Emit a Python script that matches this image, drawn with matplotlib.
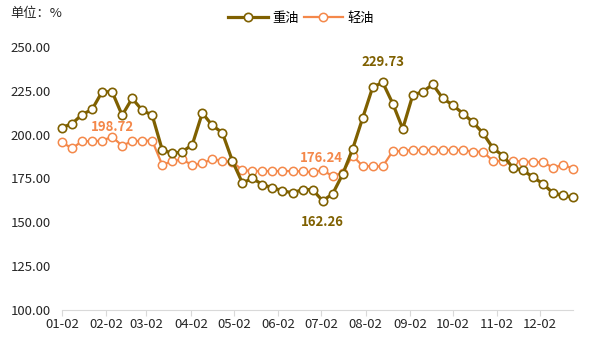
import numpy as np
import pandas as pd
import matplotlib
matplotlib.use("Agg")
import matplotlib.pyplot as plt
import matplotlib.dates as mdates

plt.rcParams['font.family'] = ['Noto Sans CJK SC', 'DejaVu Sans']

# weekly data, first Monday of the year onwards
dates = pd.date_range('2023-01-02', periods=52, freq='7D')

heavy = [204.0, 206.2, 211.4, 214.3, 224.4, 224.4, 211.0, 220.6, 213.9, 211.0,
         191.3, 189.2, 190.2, 194.2, 212.3, 205.2, 201.0, 185.0, 172.4, 175.0,
         171.5, 169.6, 168.0, 166.7, 168.6, 168.6, 162.26, 166.1, 177.3, 191.7,
         209.4, 227.0, 229.73, 217.7, 203.3, 222.5, 224.4, 228.6, 220.6, 216.8,
         212.0, 207.1, 200.8, 192.3, 187.9, 181.1, 179.6, 175.7, 171.9, 166.6,
         165.3, 164.2]

light = [195.6, 192.1, 196.2, 196.2, 196.5, 198.72, 193.6, 196.2, 196.5, 196.5,
         182.7, 184.8, 185.8, 182.5, 183.6, 186.0, 184.8, 184.4, 179.7, 179.2,
         179.2, 179.2, 179.2, 179.2, 179.0, 178.4, 179.8, 176.24, 178.3, 188.0,
         182.0, 182.0, 181.8, 190.5, 190.7, 191.2, 191.2, 191.2, 191.2, 191.2,
         191.2, 190.2, 190.2, 185.0, 185.0, 185.0, 184.6, 184.4, 184.2, 181.1,
         182.7, 180.6]

yticks = [100, 125, 150, 175, 200, 225, 250]

heavy_c = '#7F6000'
light_c = '#F4884A'

fig = plt.figure(figsize=(6.02, 3.55), dpi=100)
ax = fig.add_axes([0.103, 0.127, 0.849, 0.741])

ax.plot(dates, heavy, color=heavy_c, lw=2.3, marker='o', ms=6,
        mfc='white', mec=heavy_c, mew=1.2, label='重油', clip_on=False, zorder=3)
ax.plot(dates, light, color=light_c, lw=1.6, marker='o', ms=6,
        mfc='white', mec=light_c, mew=1.1, label='轻油', clip_on=False, zorder=2)

ax.set_ylim(100, 250)
ax.set_yticks(yticks)
ax.set_yticklabels(['%.2f' % v for v in yticks])
ax.set_xlim(dates[0], dates[-1])
ax.xaxis.set_major_locator(mdates.MonthLocator(bymonthday=2))
ax.xaxis.set_major_formatter(mdates.DateFormatter('%m-%d'))

for s in ['top', 'right', 'left']:
    ax.spines[s].set_visible(False)
ax.spines['bottom'].set_color('#D9D9D9')
ax.tick_params(axis='y', length=0, pad=8, labelsize=9.5, labelcolor='#262626')
ax.tick_params(axis='x', length=4, color='#D9D9D9', pad=2, labelsize=9.5,
               labelcolor='#262626')

# value labels
i = heavy.index(max(heavy))
ax.annotate('%.2f' % heavy[i], (dates[i], heavy[i]), xytext=(0, 15),
            textcoords='offset points', ha='center', va='center',
            color=heavy_c, fontsize=9.5, fontweight='bold')
i = heavy.index(min(heavy))
ax.annotate('%.2f' % heavy[i], (dates[i], heavy[i]), xytext=(0, -15),
            textcoords='offset points', ha='center', va='center',
            color=heavy_c, fontsize=9.5, fontweight='bold')
i = light.index(max(light))
ax.annotate('%.2f' % light[i], (dates[i], light[i]), xytext=(0, 7),
            textcoords='offset points', ha='center', va='center',
            color=light_c, fontsize=9.5, fontweight='bold')
i = light.index(min(light))
ax.annotate('%.2f' % light[i], (dates[i], light[i]), xytext=(-8, 13),
            textcoords='offset points', ha='center', va='center',
            color=light_c, fontsize=9.5, fontweight='bold')

fig.text(0.017, 0.962, '单位：%', fontsize=9.5, color='#262626', va='center')
ax.legend(loc='center', bbox_to_anchor=(0.5, 0.949), bbox_transform=fig.transFigure,
          ncol=2, frameon=False, fontsize=9.5, handlelength=3, columnspacing=0.4,
          handletextpad=0.3, borderpad=0)

fig.savefig('out.png', dpi=100)
